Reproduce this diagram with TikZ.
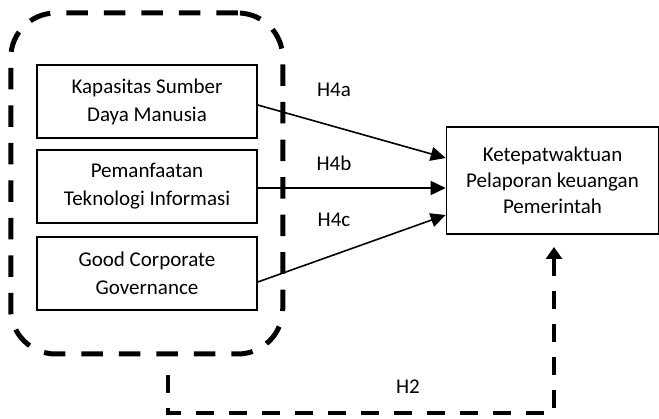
\documentclass[tikz,border=0pt]{standalone}
\usepackage{fontspec}
\setmainfont{Carlito}
\usetikzlibrary{arrows.meta}
\tikzset{
  var/.style={draw, line width=1.6pt, minimum width=220pt, minimum height=73pt, align=center, inner sep=0pt, font=\fontsize{21}{28}\selectfont},
  dep/.style={var, minimum width=212pt, minimum height=107pt, font=\fontsize{21}{26}\selectfont},
  grp/.style={draw, line width=5pt, dash pattern=on 21.5pt off 16pt, rounded corners=45pt, minimum width=272pt, minimum height=341pt, inner sep=0pt},
  arr/.style={line width=1.6pt, -{Triangle[length=15pt,width=14pt]}},
  fbline/.style={line width=4.5pt, dash pattern=on 18pt off 15pt, -{Triangle[length=12pt,width=16pt]}},
  lbl/.style={font=\fontsize{21}{24}\selectfont, inner sep=0pt}
}
\begin{document}
\begin{tikzpicture}[x=1pt, y=1pt]
	\useasboundingbox (0,0) rectangle (659,418);
	\node[grp] (X) at (146.75, 234.5) {};
	\node[var] (ksdm) at (147, 316.5) {Kapasitas Sumber\\Daya Manusia};
	\node[var] (ti) at (147, 231.5) {Pemanfaatan\\Teknologi Informasi};
	\node[var] (gcg) at (147, 144.5) {Good Corporate\\Governance};
	\node[dep] (ket) at (552.5, 237.5) {Ketepatwaktuan\\Pelaporan keuangan\\Pemerintah};

	\node[lbl] (h4a) at (334, 328) {H4a};
	\node[lbl] (h4b) at (334, 255) {H4b};
	\node[lbl] (h4c) at (334, 198) {H4c};
	\node[lbl] (h2) at (408, 31) {H2};

	\path [arr] ([yshift=-3.5pt]ksdm.east) edge ([yshift=22.5pt]ket.west);
	\path [arr] ([yshift=-1.5pt]ti.east) edge ([yshift=-7.5pt]ket.west);
	\path [arr] ([yshift=-8.5pt]gcg.east) edge ([yshift=-34.5pt]ket.west);

	% feedback line
	\coordinate (fb0) at (168, 43);
	\coordinate (fbc) at (168, 5);
	\coordinate (fbend) at (554, 171);
	\draw [fbline] (fb0) -- (fbc) -| (fbend);
\end{tikzpicture}
\end{document}
